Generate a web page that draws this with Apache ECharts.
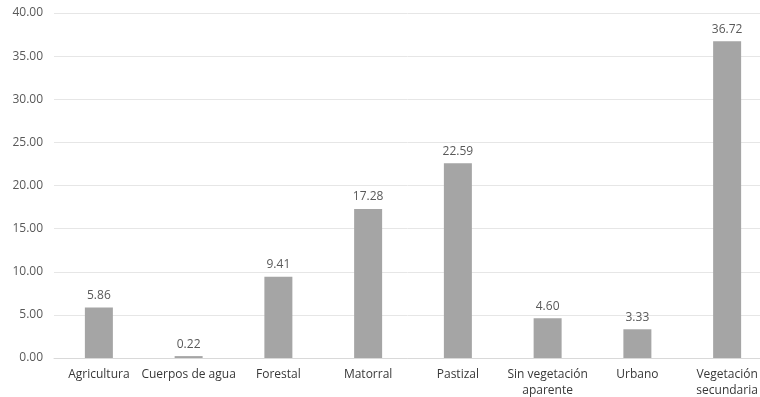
<!DOCTYPE html>
<html>
<head>
<meta charset="utf-8">
<script src="https://cdn.jsdelivr.net/npm/echarts@6/dist/echarts.min.js"></script>
<style>
  html, body { margin: 0; padding: 0; background: #fff; }
  #chart { width: 760px; height: 397px; }
</style>
</head>
<body>
<div id="chart"></div>
<script>
var categories = ['Agricultura', 'Cuerpos de agua', 'Forestal', 'Matorral', 'Pastizal',
  'Sin vegetación\naparente', 'Urbano', 'Vegetación\nsecundaria'];
var values = [5.86, 0.22, 9.41, 17.28, 22.59, 4.60, 3.33, 36.72];

var chart = echarts.init(document.getElementById('chart'));
chart.setOption({
  animation: false,
  textStyle: { fontFamily: 'Open Sans' },
  grid: { left: 54, top: 13, width: 718, height: 345, outerBoundsMode: 'none', containLabel: false },
  xAxis: {
    type: 'category',
    data: categories,
    axisLine: { lineStyle: { color: '#d9d9d9' } },
    axisTick: { show: false },
    axisLabel: { color: '#383838', fontSize: 12, margin: 9, interval: 0, lineHeight: 16 }
  },
  yAxis: {
    type: 'value',
    min: 0,
    max: 40,
    interval: 5,
    axisLine: { show: false },
    axisTick: { show: false },
    axisLabel: {
      color: '#595959', fontSize: 12, margin: 11,
      formatter: function (v) { return v.toFixed(2); }
    },
    splitLine: { lineStyle: { color: '#e6e6e6' } }
  },
  series: [{
    type: 'bar',
    data: values,
    barWidth: 28,
    itemStyle: { color: '#a5a5a5' },
    label: {
      show: true,
      position: 'top',
      distance: 6,
      color: '#595959',
      fontSize: 12,
      formatter: function (p) { return p.value.toFixed(2); }
    }
  }]
});
</script>
</body>
</html>
